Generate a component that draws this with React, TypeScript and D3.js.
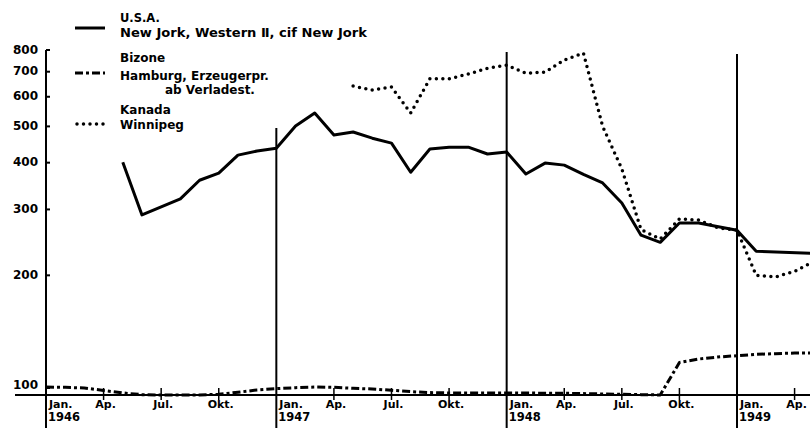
import * as d3 from 'd3';

const width = 810;
const height = 428;

// months are counted from Jan. 1946 (= 0)
const quarterMonths = [0, 3, 6, 9, 12, 15, 18, 21, 24, 27, 30, 33, 36, 39];
const quarterLabels = ['Jan.', 'Ap.', 'Jul.', 'Okt.', 'Jan.', 'Ap.', 'Jul.', 'Okt.', 'Jan.', 'Ap.', 'Jul.', 'Okt.', 'Jan.', 'Ap.'];
const yearLabels = ['1946', '1947', '1948', '1949'];
const yearMonths = [0, 12, 24, 36];
// how far up each year divider is drawn (in axis units)
const yearLineTops = [800, 495, 790, 780];
const yTicks = [100, 200, 300, 400, 500, 600, 700, 800];
const axisFloor = 95.8;

// U.S.A., New York, Western II, cif New York
const usa: [number, number][] = [
  [4, 401], [5, 290], [7, 320], [8, 359], [9, 375], [10, 419], [11, 430],
  [12, 437], [13, 501], [14, 543], [15, 474], [16, 483], [17, 465], [18, 451],
  [19, 377], [20, 435], [21, 440], [22, 440], [23, 422], [24, 427], [25, 373],
  [26, 399], [27, 394], [28, 372], [29, 353], [30, 312], [31, 256], [32, 245],
  [33, 276], [34, 276], [36, 264], [37, 232], [40, 229],
];

// Bizone, Hamburg, Erzeugerpreis ab Verladestation
const bizone: [number, number][] = [
  [0, 100.6], [1, 100.4], [2, 100], [3, 98.5], [4, 97], [5, 96], [6, 95.8],
  [7, 95.8], [8, 95.8], [9, 96.2], [10, 97.4], [11, 98.8], [12, 99.6],
  [13, 100.2], [14, 100.6], [15, 100.4], [16, 99.8], [17, 99.4], [18, 98.6],
  [19, 97.8], [20, 97.2], [21, 97], [24, 97], [27, 96.8], [29, 96.4],
  [31, 96], [32, 95.8], [33, 117], [34, 119.5], [35, 121], [36, 122],
  [37, 123], [38, 123.5], [39, 124], [40, 124],
];

// Kanada, Winnipeg
const kanada: [number, number][] = [
  [16, 641], [17, 625], [18, 637], [19, 543], [20, 670], [21, 670], [22, 690],
  [23, 715], [24, 729], [25, 694], [26, 698], [27, 752], [28, 785], [29, 500],
  [30, 385], [31, 265], [32, 250], [33, 283], [34, 281], [35, 268], [36, 264],
  [37, 200], [38, 198], [39, 205], [40, 218],
];

const font = '"DejaVu Sans", sans-serif';

export default function App() {
  const x = d3.scaleLinear().domain([0, 36]).range([46, 737]);
  const y = d3.scaleLog().domain([100, 800]).range([388, 50]);
  const baseY = y(axisFloor);

  const line = d3
    .line<[number, number]>()
    .x((d) => x(d[0]))
    .y((d) => y(d[1]));

  const solid = { stroke: '#000', strokeWidth: 3, fill: 'none', strokeLinejoin: 'round' as const };
  const dashDot = { ...solid, strokeWidth: 3, strokeDasharray: '8 3 3 3' };
  const dotted = { ...solid, strokeWidth: 3.5, strokeDasharray: '0 6.5', strokeLinecap: 'round' as const };

  return (
    <svg
      width={width}
      height={height}
      viewBox={`0 0 ${width} ${height}`}
      style={{ position: 'absolute', left: 0, top: 0, background: '#fff' }}
      fontFamily={font}
    >
      <rect width={width} height={height} fill="#fff" />

      {/* legend */}
      <g fontSize={12} fontWeight="bold" fill="#000">
        <line x1={75} x2={105} y1={28} y2={28} {...solid} />
        <text x={120} y={22} fontSize={11.5}>U.S.A.</text>
        <text x={120} y={37} textLength={247} lengthAdjust="spacingAndGlyphs">New Jork, Western Ⅱ, cif New Jork</text>
        <line x1={75} x2={105} y1={73} y2={73} {...dashDot} />
        <text x={120} y={62}>Bizone</text>
        <text x={120} y={80}>Hamburg, Erzeugerpr.</text>
        <text x={165} y={94}>ab Verladest.</text>
        <line x1={77} x2={105} y1={124} y2={124} {...dotted} />
        <text x={120} y={114}>Kanada</text>
        <text x={120} y={129}>Winnipeg</text>
      </g>

      {/* y axis */}
      <line x1={x(0)} x2={x(0)} y1={y(800)} y2={height} stroke="#000" strokeWidth={2} />
      {yTicks.map((t) => (
        <g key={t}>
          <line x1={x(0)} x2={x(0) + 4} y1={y(t)} y2={y(t)} stroke="#000" strokeWidth={2} />
          <text
            x={38}
            y={y(t) - (t === 100 ? 3 : 0)}
            textAnchor="end"
            dominantBaseline="middle"
            fontSize={12}
            fontWeight="bold"
          >
            {t}
          </text>
        </g>
      ))}

      {/* x axis */}
      <line x1={15} x2={width} y1={baseY} y2={baseY} stroke="#000" strokeWidth={2} />
      {quarterMonths.map((m) =>
        m % 12 === 0 ? null : (
          <line key={m} x1={x(m)} x2={x(m)} y1={baseY - 7} y2={baseY + 5} stroke="#000" strokeWidth={1.5} />
        ),
      )}
      {quarterMonths.map((m, i) => (
        <text
          key={`l${m}`}
          x={m % 12 === 0 ? x(m) + 3 : x(m) + 2}
          y={407.5}
          textAnchor={m % 12 === 0 ? 'start' : 'middle'}
          fontSize={11}
          fontWeight="bold"
        >
          {quarterLabels[i]}
        </text>
      ))}
      {yearMonths.map((m, i) => (
        <g key={`y${m}`}>
          {i > 0 && (
            <line x1={x(m)} x2={x(m)} y1={y(yearLineTops[i])} y2={height} stroke="#000" strokeWidth={2} />
          )}
          <text x={x(m) + 2} y={421} fontSize={11.5} fontWeight="bold">
            {yearLabels[i]}
          </text>
        </g>
      ))}

      {/* series */}
      <path d={line(bizone) ?? ''} {...dashDot} />
      <path d={line(kanada) ?? ''} {...dotted} />
      <path d={line(usa) ?? ''} {...solid} />
    </svg>
  );
}
